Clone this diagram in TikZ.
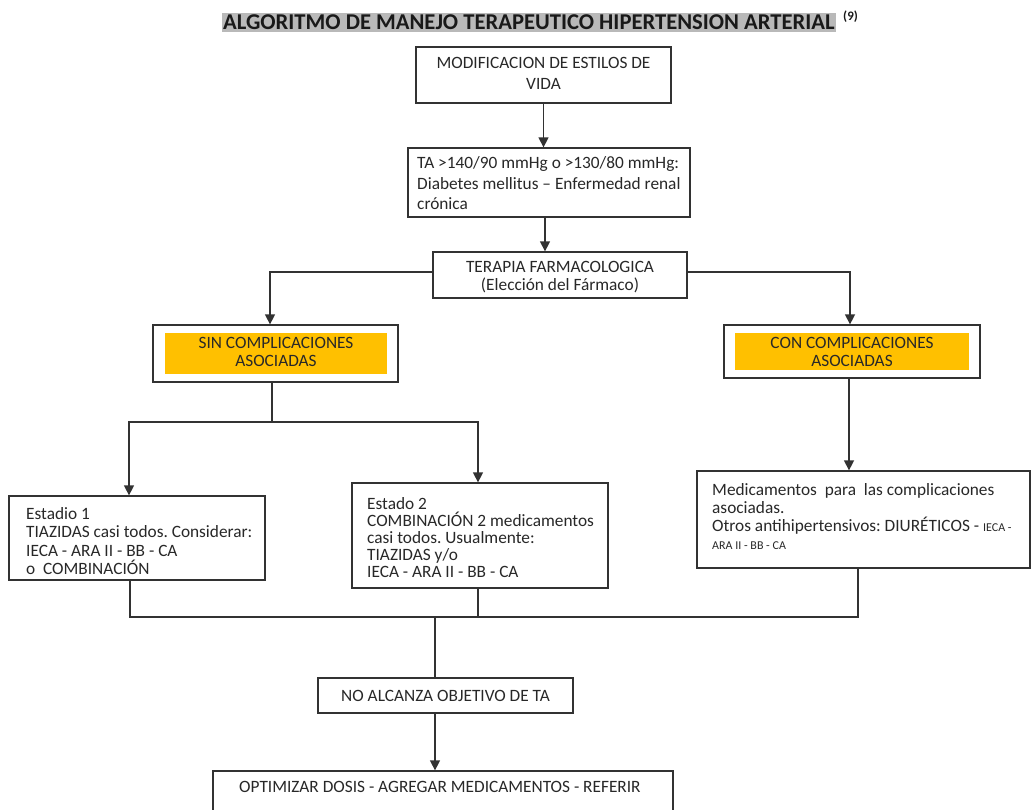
\documentclass[tikz,border=0pt]{standalone}
\usepackage{fontspec}
\setmainfont{Carlito}
\usetikzlibrary{arrows.meta,calc}
\definecolor{ln}{RGB}{50,50,50}
\definecolor{tx}{RGB}{40,40,40}
\definecolor{gold}{RGB}{255,192,0}
\definecolor{tgray}{RGB}{185,185,185}
\begin{document}
\frenchspacing
\begin{tikzpicture}[x=1pt,y=-1pt,
 box/.style={draw=ln, line width=1.3pt, inner sep=0pt, rectangle},
 txt/.style={inner sep=0pt, text=tx, font=\fontsize{17.3}{18}\selectfont},
 arr/.style={draw=ln, line width=1.4pt, -{Triangle[width=10pt,length=10pt]}},
 con/.style={draw=ln, line width=1.3pt}]
\clip (0,0) rectangle (1032,809);
\fill[white] (0,0) rectangle (1032,809);

% title
\node[fill=tgray, inner xsep=1pt, inner ysep=2.5pt, anchor=west, text=black!90,
  font=\bfseries\fontsize{22.6}{26}\selectfont] (title) at (222,22.5)
  {ALGORITMO DE MANEJO TERAPEUTICO HIPERTENSION ARTERIAL};
\node[anchor=west, inner sep=0pt, text=black!90, font=\bfseries\fontsize{13}{15}\selectfont] (ref) at (843,17) {(9)};

% boxes
\node[box, minimum width=255pt, minimum height=56pt] (b1) at (543.5,75) {};
\node[box, minimum width=282pt, minimum height=69pt] (b2) at (549,182.5) {};
\node[box, minimum width=254pt, minimum height=46pt] (b3) at (560,275) {};
\node[box, minimum width=245pt, minimum height=57pt] (b4) at (275.5,353.5) {};
\node[box, minimum width=256pt, minimum height=53pt] (b5) at (852,351.5) {};
\node[box, minimum width=256pt, minimum height=84pt] (b6) at (137,538) {};
\node[box, minimum width=256pt, minimum height=105pt] (b7) at (480,535.5) {};
\node[box, minimum width=333pt, minimum height=97pt] (b8) at (863.5,519.5) {};
\node[box, minimum width=255pt, minimum height=35pt] (b9) at (445.5,695.5) {};
\node[box, minimum width=460pt, minimum height=59pt] (b10) at (443,800.5) {};

% orange bands
\node[fill=gold, inner sep=0pt, minimum width=222pt, minimum height=41pt] (o4) at (276,353.5) {};
\node[fill=gold, inner sep=0pt, minimum width=234pt, minimum height=37pt] (o5) at (852,351.5) {};

% texts
\node[txt, align=center, font=\fontsize{17.3}{21}\selectfont] (t1) at (543.5,73) {MODIFICACION DE ESTILOS DE\\VIDA};
\node[txt, align=left, anchor=west, font=\fontsize{17.3}{20.5}\selectfont] (t2) at (417,183.5)
  {TA >140/90 mmHg o >130/80 mmHg:\\Diabetes mellitus -- Enfermedad renal\\crónica};
\node[txt, align=center, font=\fontsize{17.3}{18}\selectfont] (t3) at (560,277) {TERAPIA FARMACOLOGICA\\(Elección del Fármaco)};
\node[txt, align=center, font=\fontsize{17.3}{18}\selectfont] (t4) at (276,352) {SIN COMPLICACIONES\\ASOCIADAS};
\node[txt, align=center, font=\fontsize{17.3}{18}\selectfont] (t5) at (852,352) {CON COMPLICACIONES\\ASOCIADAS};
\node[txt, align=left, anchor=west, font=\fontsize{17.3}{18.3}\selectfont] (t6) at (26,541)
  {Estadio 1\\TIAZIDAS casi todos. Considerar:\\IECA - ARA II - BB - CA\\o\ \ COMBINACIÓN};
\node[txt, align=left, anchor=west, font=\fontsize{17.3}{17}\selectfont] (t7) at (367,537.5)
  {Estado 2\\COMBINACIÓN 2 medicamentos\\casi todos. Usualmente:\\TIAZIDAS y/o\\IECA - ARA II - BB - CA};
\node[txt, align=left, anchor=west, font=\fontsize{17.3}{18}\selectfont] (t8) at (712,517)
  {Medicamentos\ \ para\ \ las complicaciones\\asociadas.\\Otros antihipertensivos: DIURÉTICOS - {\fontsize{12}{14}\selectfont IECA -}\\{\fontsize{12}{14}\selectfont ARA II - BB - CA}};
\node[txt, align=center] (t9) at (445.5,695.5) {NO ALCANZA OBJETIVO DE TA};
\node[txt, anchor=west] (t10) at (239,786.5) {OPTIMIZAR DOSIS - AGREGAR MEDICAMENTOS - REFERIR};

% connectors
\draw[arr] (b1.south) -- (b1.south |- b2.north);
\draw[arr] ([xshift=-4pt]b2.south) -- ([xshift=-4pt]b2.south |- b3.north);
\draw[arr] ([yshift=3pt]b3.west) -| ([xshift=-5.5pt]b4.north);
\draw[arr] ([yshift=3pt]b3.east) -| ([xshift=-2pt]b5.north);
\coordinate (j1) at (272,422);
\draw[con] (b4.south -| j1) -- (j1);
\draw[arr] (j1) -| ([xshift=-8pt]b6.north);
\draw[arr] (j1) -| ([xshift=-2pt]b7.north);
\draw[arr] ([xshift=-3pt]b5.south) -- ([xshift=-3pt]b5.south |- b8.north);
\coordinate (j2) at (435,617);
\draw[con] ([xshift=-7pt]b6.south) |- (j2);
\draw[con] (j2) -| ([xshift=-5.5pt]b8.south);
\draw[con] ([xshift=-2pt]b7.south) -- ([xshift=-2pt]b7.south |- j2);
\draw[con] (j2) -- (j2 |- b9.north);
\draw[arr] (j2 |- b9.south) -- (j2 |- b10.north);
\end{tikzpicture}
\end{document}
